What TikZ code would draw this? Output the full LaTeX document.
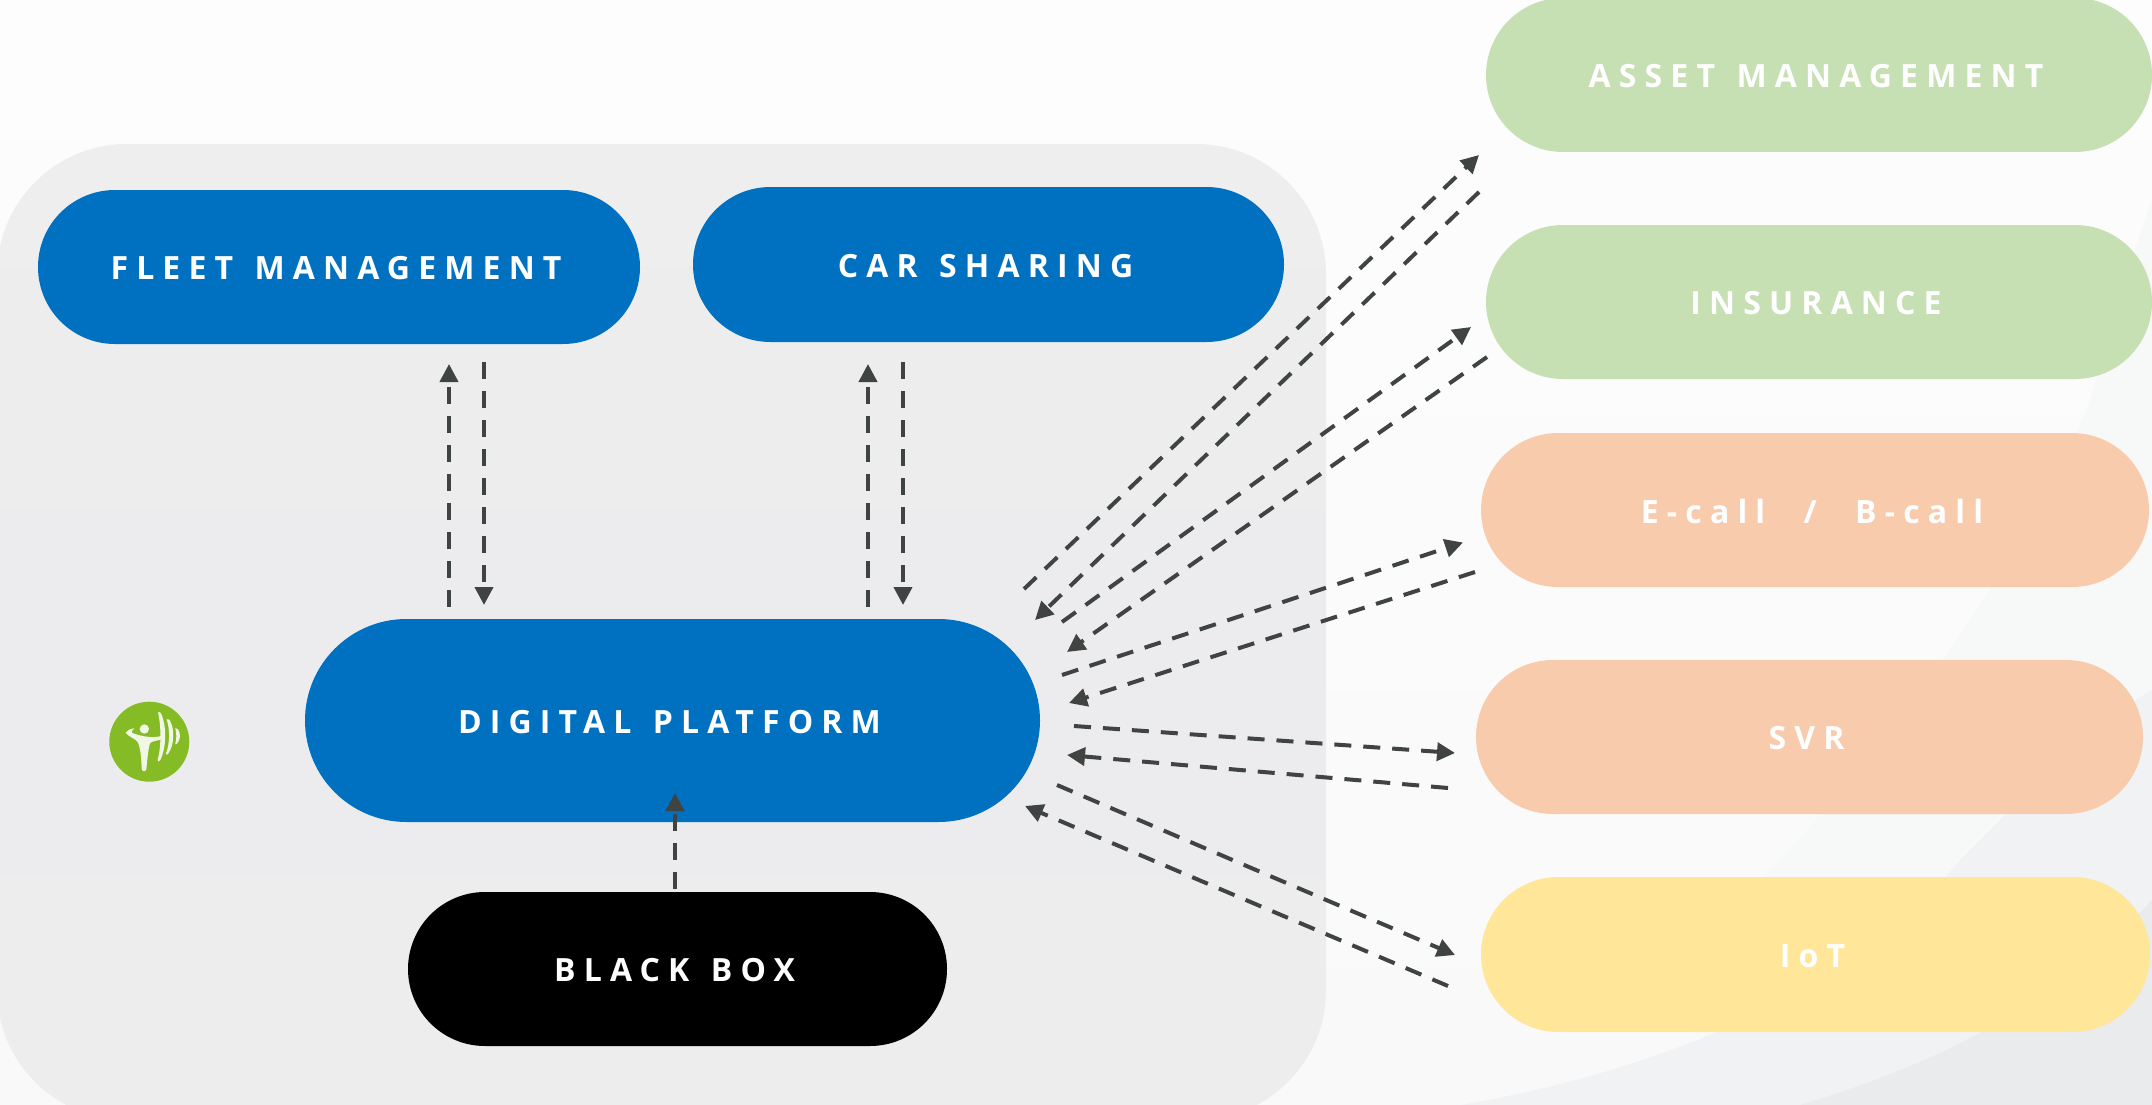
\documentclass[tikz,border=0pt]{standalone}
\usepackage{fontspec}
\setmainfont{Open Sans}
\newfontfamily\pillfont[LetterSpace=25.5,WordSpace=1.3]{Open Sans}
\usetikzlibrary{arrows.meta,shapes.misc}
\definecolor{bgtop}{HTML}{FDFDFD}
\definecolor{bgbot}{HTML}{F9F9F9}
\definecolor{swooshF}{HTML}{F7F8F8}
\definecolor{swooshA}{HTML}{F1F2F4}
\definecolor{swooshB}{HTML}{E9EBED}
\definecolor{panelt}{HTML}{EEEEEE}
\definecolor{panelm}{HTML}{ECECEE}
\definecolor{panelb}{HTML}{EDEDED}
\definecolor{bluec}{HTML}{0070C0}
\definecolor{greenc}{HTML}{C6E0B4}
\definecolor{orangec}{HTML}{F8CBAD}
\definecolor{yellowc}{HTML}{FFE699}
\definecolor{arrowc}{HTML}{3F4341}
\definecolor{logoc}{HTML}{85BC25}
\tikzset{
  pill/.style={rounded rectangle,inner sep=0pt,text=white,font=\pillfont\fontsize{32}{38}\bfseries\selectfont},
  link/.style={draw=arrowc,line width=4pt,dash pattern=on 17pt off 12pt,-{Triangle[length=18pt,width=18pt]}},
  logoshape/.style={fill=white!88!logoc,draw=none},
}
\newcommand{\pillnode}[7]{\node[pill,fill=#2,minimum width=#5 pt-#3 pt,minimum height=#6 pt-#4 pt] (#1) at ({(#3+#5)/2},{(#4+#6)/2}) {\kern-6pt \raisebox{-1.5pt}[\height][\depth]{#7}};}
\begin{document}
\begin{tikzpicture}[x=1pt,y=-1pt]
\useasboundingbox (0,0) rectangle (2152,1105);
\clip (0,0) rectangle (2152,1105);
% background
\shade[top color=bgtop,bottom color=bgbot] (0,0) rectangle (2152,1105);
\fill[swooshF] (1760,880) .. controls (1880,760) and (2040,540) .. (2090,400) .. controls (2110,330) and (2130,260) .. (2152,200) -- (2152,1105) -- (1760,1105) -- cycle;
\fill[swooshA] (1461,1105) .. controls (1720,1060) and (1880,960) .. (1960,860) .. controls (2040,780) and (2100,720) .. (2152,690) -- (2152,1105) -- cycle;
\fill[swooshB] (1800,1105) .. controls (1950,1060) and (2060,1000) .. (2152,900) -- (2152,1105) -- cycle;
% panel
\shade[top color=panelt,bottom color=panelb,middle color=panelm,rounded corners=130pt] (-3,144) rectangle (1326,1120);
% pills
\pillnode{fleet}{bluec}{38}{190}{640}{344}{FLEET MANAGEMENT}
\pillnode{car}{bluec}{693}{187}{1284}{342}{CAR SHARING}
\pillnode{digital}{bluec}{305}{619}{1040}{822}{DIGITAL PLATFORM}
\pillnode{black}{black}{408}{892}{947}{1046}{BLACK BOX}
\pillnode{asset}{greenc}{1486}{-2}{2152}{152}{ASSET MANAGEMENT}
\pillnode{insurance}{greenc}{1486}{225}{2152}{379}{INSURANCE}
\pillnode{ecall}{orangec}{1481}{433}{2149}{587}{E-call\ \kern17pt/\ \kern17pt B-call}
\pillnode{svr}{orangec}{1476}{660}{2143}{814}{SVR}
\pillnode{iot}{yellowc}{1481}{877}{2150}{1032}{IoT}
% connector ends
\coordinate (fu0) at (449,607); \coordinate (fu1) at (449,364);
\coordinate (fd0) at (484,362); \coordinate (fd1) at (484,605);
\coordinate (cu0) at (868,607); \coordinate (cu1) at (868,364);
\coordinate (cd0) at (903,362); \coordinate (cd1) at (903,605);
\coordinate (bu0) at (675,889); \coordinate (bu1) at (675,793);
\coordinate (au0) at (1024,589); \coordinate (au1) at (1479,155);
\coordinate (ad0) at (1479,192); \coordinate (ad1) at (1035,620);
\coordinate (iu0) at (1062,622); \coordinate (iu1) at (1471,327);
\coordinate (id0) at (1487,357); \coordinate (id1) at (1067,652);
\coordinate (eu0) at (1062,675); \coordinate (eu1) at (1463,542.5);
\coordinate (ed0) at (1475,572); \coordinate (ed1) at (1069,703);
\coordinate (su0) at (1074,726); \coordinate (su1) at (1455,753);
\coordinate (sd0) at (1448,788); \coordinate (sd1) at (1067,755);
\coordinate (tu0) at (1057,785); \coordinate (tu1) at (1455,955);
\coordinate (td0) at (1448,986); \coordinate (td1) at (1025,806);
\foreach \k in {fu,fd,cu,cd,bu,au,ad,iu,id,eu,ed,su,sd,tu,td}
  \draw[link] (\k0) -- (\k1);
% logo
\node[circle,fill=logoc,minimum size=80pt,inner sep=0pt] (logo) at (149.3,741.7) {};
\begin{scope}[shift={(90,680)},x=0.3333pt,y=-0.3333pt]
\fill[logoshape] (163,147) circle (14);
\fill[logoshape] (107,158) .. controls (112,150) and (122,146) .. (133,145)
  .. controls (128,150) and (124,154) .. (125,158)
  .. controls (150,168) and (185,176) .. (214,168)
  -- (216,177) .. controls (200,184) and (186,182) .. (180,190)
  .. controls (174,210) and (172,240) .. (169,268)
  .. controls (166,276) and (156,276) .. (155,266)
  .. controls (154,235) and (152,205) .. (143,186)
  .. controls (135,175) and (115,170) .. (107,158) -- cycle;
\fill[logoshape] (204,97) .. controls (208,95) and (212,96) .. (214,102)
  .. controls (230,140) and (230,200) .. (211,240)
  .. controls (208,246) and (203,246) .. (203,240)
  .. controls (214,200) and (214,140) .. (204,97) -- cycle;
\fill[logoshape] (230,118) .. controls (234,116) and (238,118) .. (240,122)
  .. controls (255,150) and (253,195) .. (234,222)
  .. controls (231,226) and (227,224) .. (228,220)
  .. controls (240,190) and (240,150) .. (230,118) -- cycle;
\fill[logoshape] (256,144) .. controls (260,143) and (262,145) .. (264,148)
  .. controls (273,160) and (272,180) .. (260,192)
  .. controls (258,194) and (255,193) .. (256,190)
  .. controls (260,178) and (260,160) .. (256,144) -- cycle;
\end{scope}
\end{tikzpicture}
\end{document}
